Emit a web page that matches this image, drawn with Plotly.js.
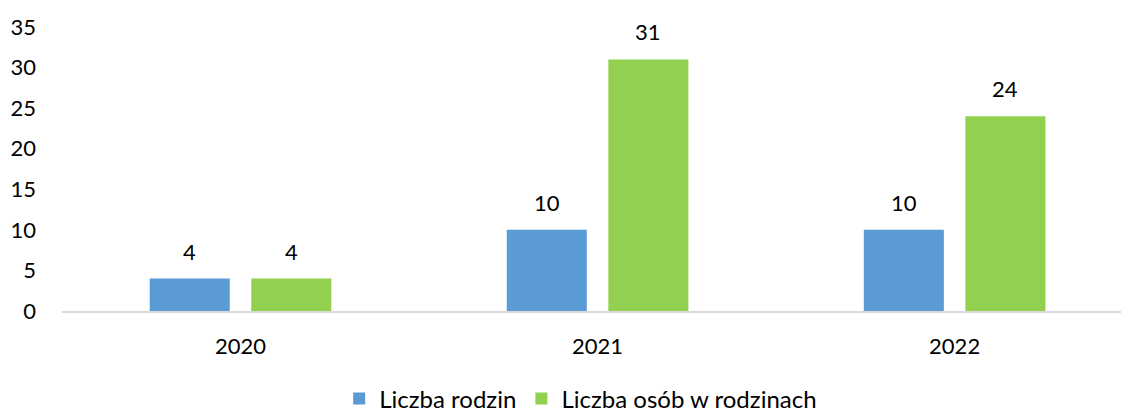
<!DOCTYPE html>
<html>
<head>
<meta charset="utf-8">
<script src="https://cdn.plot.ly/plotly-3.0.1.min.js"></script>
<style>
  html, body { margin: 0; padding: 0; background: #fff; overflow: hidden; }
  #chart { width: 1121px; height: 410px; }
</style>
</head>
<body>
<div id="chart"></div>
<script>
const categories = ['2020', '2021', '2022'];
const seriesNames = ['Liczba rodzin', 'Liczba osób w rodzinach'];
const rodziny = [4, 10, 10];
const osoby = [4, 31, 24];
const yTicks = [0, 5, 10, 15, 20, 25, 30, 35];

const colors = ['#5B9BD5', '#92D050'];
const FONT = 'Lato, "Open Sans", sans-serif';
const values = [rodziny, osoby];

const traces = values.map((v, i) => ({
  type: 'bar',
  name: seriesNames[i],
  x: categories,
  y: v,
  marker: { color: colors[i], line: { width: 0 } },
  hoverinfo: 'none'
}));

// data labels above bars: placed at each category (by its index on the category axis) and value
const annotations = [];
const slotShift = [-50.75, 50.75];
values.forEach((v, i) => {
  v.forEach((val, j) => {
    annotations.push({
      x: categories.indexOf(categories[j]), y: val, xref: 'x', yref: 'y',
      text: String(val), showarrow: false,
      xanchor: 'center', yanchor: 'bottom',
      xshift: slotShift[i], yshift: 12,
      font: { family: FONT, size: 22, color: '#000' }
    });
  });
});

const layout = {
  width: 1121, height: 410,
  margin: { l: 62, r: 0, t: 27, b: 99 },
  paper_bgcolor: '#fff', plot_bgcolor: '#fff',
  font: { family: FONT, size: 22, color: '#000' },
  barmode: 'group',
  bargap: 0.431,
  bargroupgap: 0.212,
  showlegend: true,
  legend: {
    orientation: 'h',
    x: 0.518, xref: 'container', xanchor: 'center',
    y: 0.027, yref: 'container', yanchor: 'middle',
    font: { family: FONT, size: 24, color: '#000' },
    traceorder: 'normal'
  },
  xaxis: {
    type: 'category',
    range: [-0.5, 2.466],
    showline: true, linecolor: '#D9D9D9', linewidth: 1.5,
    showgrid: false, zeroline: false, ticks: '',
    ticklabelstandoff: 15,
    tickfont: { family: FONT, size: 22, color: '#000' },
    fixedrange: true
  },
  yaxis: {
    range: [0, 35],
    tickvals: yTicks,
    ticktext: yTicks.map(String),
    showline: false, showgrid: false, zeroline: false, ticks: '',
    ticklabelstandoff: 25,
    tickfont: { family: FONT, size: 22, color: '#000' },
    fixedrange: true
  },
  annotations: annotations
};

Plotly.newPlot('chart', traces, layout, { displayModeBar: false, staticPlot: true });
</script>
</body>
</html>
